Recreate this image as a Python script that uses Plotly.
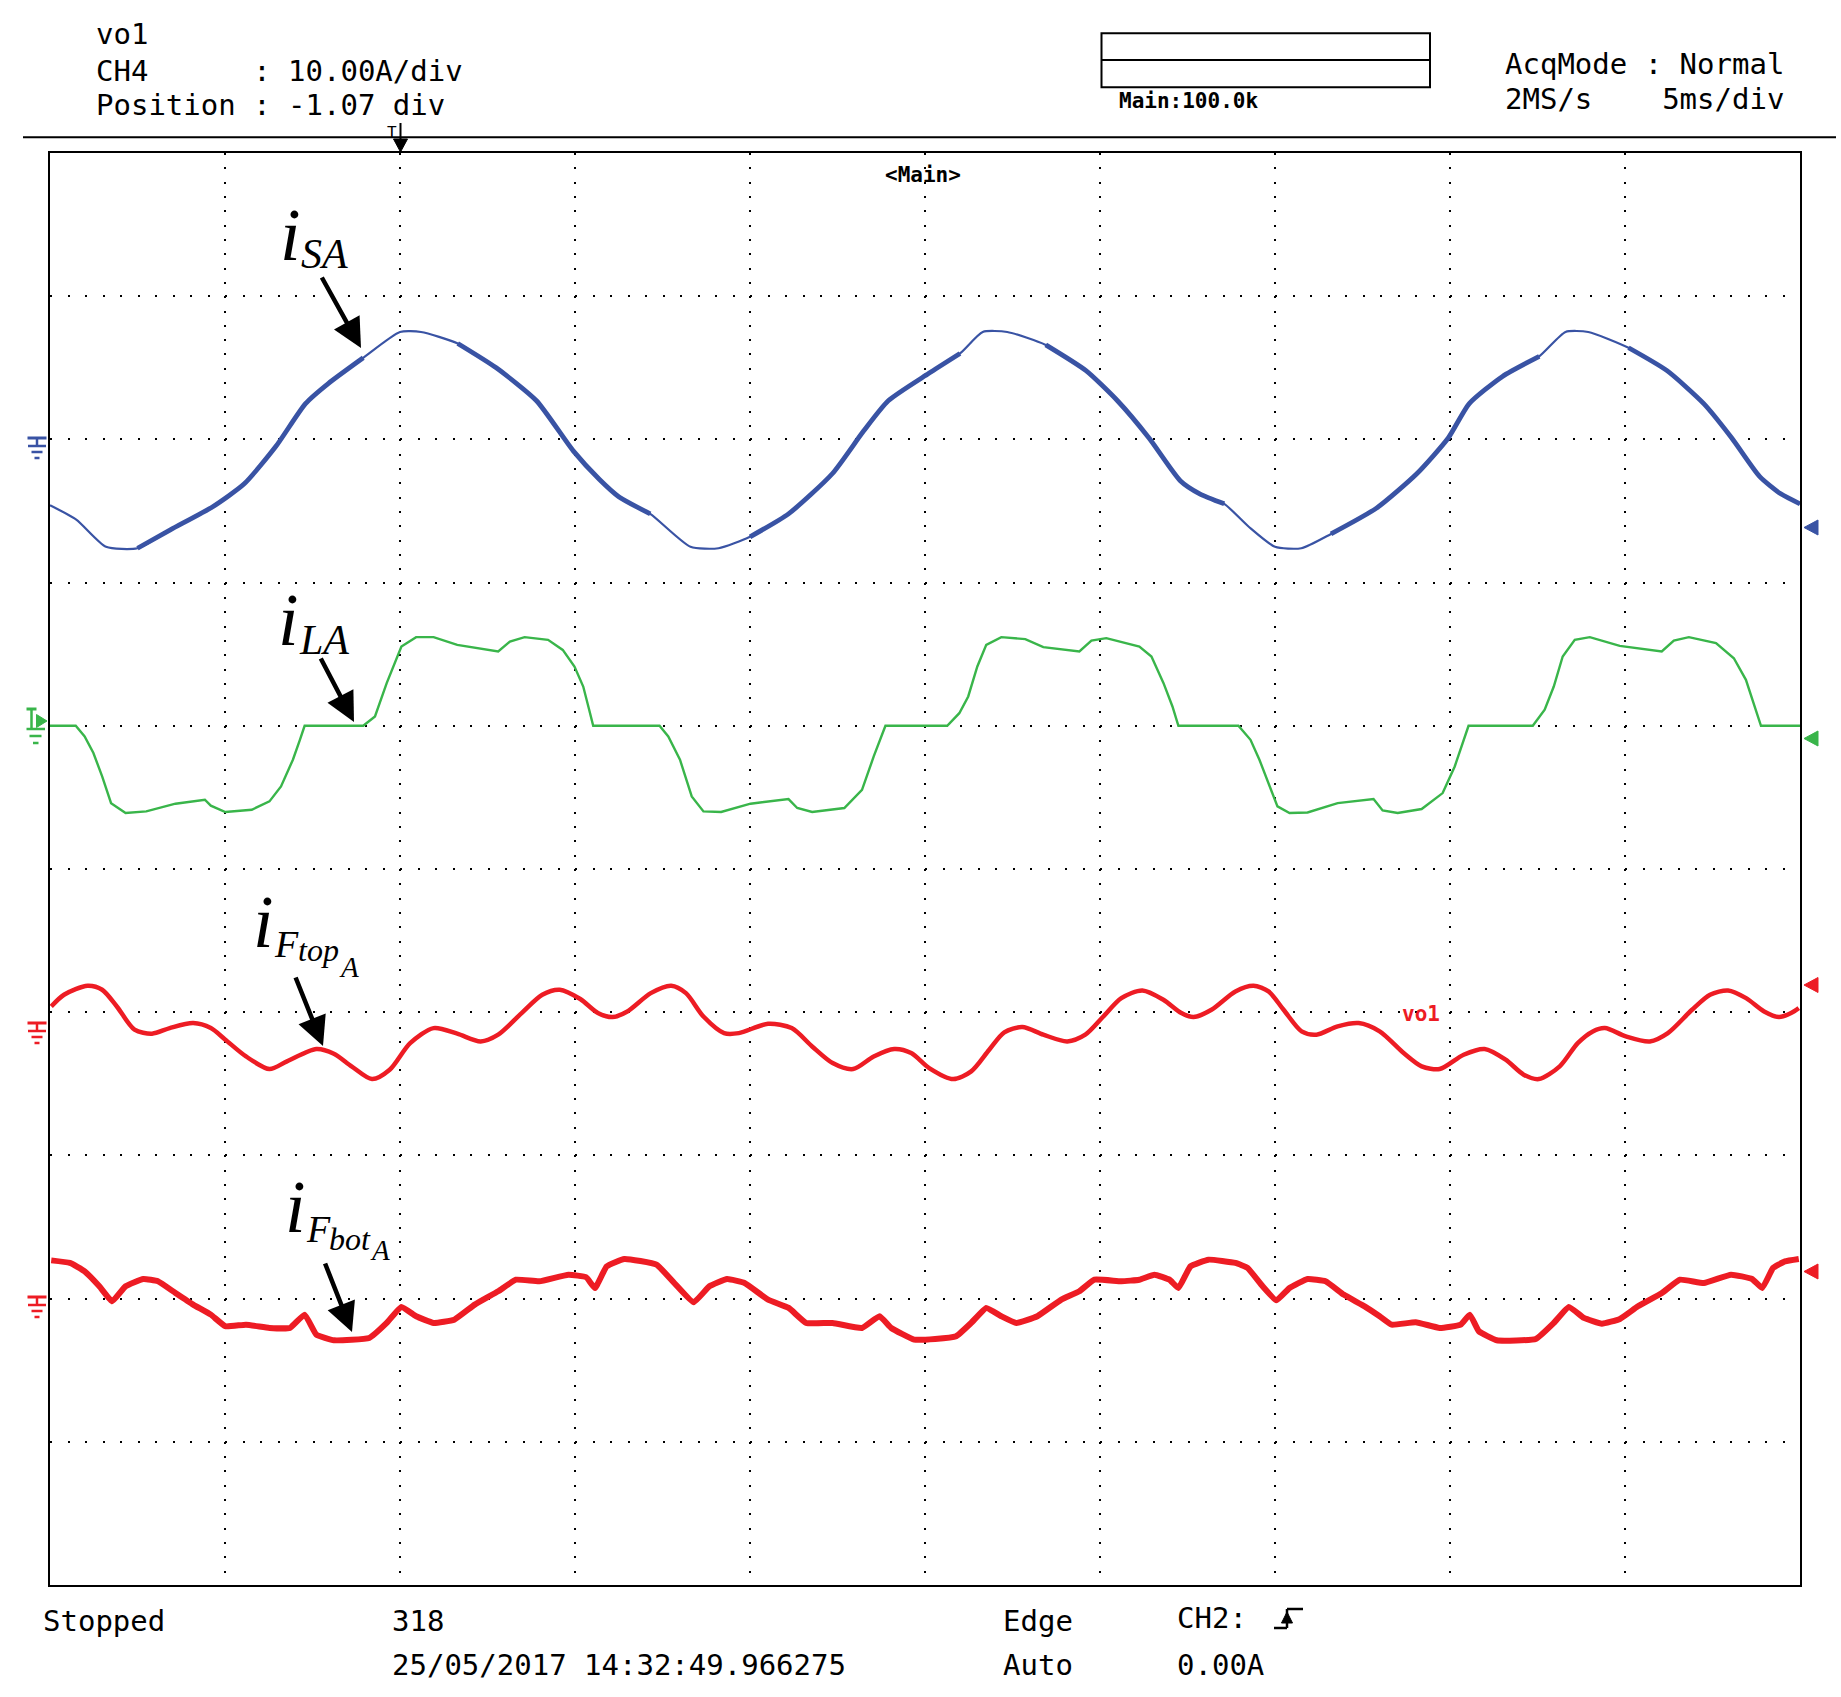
import numpy as np
import plotly.graph_objects as go

# ---------------- data read from the scope screen ----------------
# time in graticule divisions (5 ms/div), vertical position in divisions from top of screen
isa_t = [0.00, 0.15, 0.32, 0.50, 0.69, 0.93, 1.11, 1.29, 1.46, 1.59, 1.79, 2.00, 2.12, 2.33, 2.55, 2.78,
         2.99, 3.14, 3.25, 3.43, 3.66, 3.82, 4.00, 4.22, 4.47, 4.65, 4.79, 5.02, 5.20, 5.33, 5.47, 5.69,
         5.92, 6.10, 6.28, 6.46, 6.57, 6.71, 6.85, 7.00, 7.15, 7.32, 7.58, 7.81, 7.99, 8.11, 8.30, 8.51,
         8.66, 8.79, 9.02, 9.24, 9.45, 9.61, 9.77, 9.89, 10.00]
isa_y = [2.46, 2.56, 2.75, 2.76, 2.63, 2.47, 2.31, 2.05, 1.75, 1.61, 1.43, 1.25, 1.25, 1.33, 1.50, 1.73,
         2.08, 2.28, 2.40, 2.52, 2.75, 2.76, 2.68, 2.52, 2.24, 1.94, 1.73, 1.54, 1.40, 1.25, 1.25, 1.34,
         1.52, 1.73, 1.99, 2.29, 2.38, 2.45, 2.61, 2.75, 2.76, 2.66, 2.48, 2.24, 1.99, 1.75, 1.56, 1.42,
         1.25, 1.25, 1.36, 1.52, 1.75, 1.99, 2.26, 2.38, 2.45]

ila_t = [0.00, 0.147, 0.198, 0.248, 0.298, 0.349, 0.432, 0.55, 0.717, 0.885, 0.919, 1.002, 1.153, 1.254,
         1.32, 1.388, 1.428, 1.455, 1.79, 1.857, 1.924, 2.008, 2.092, 2.192, 2.327, 2.561, 2.628, 2.712,
         2.846, 2.93, 2.997, 3.047, 3.081, 3.104, 3.483, 3.533, 3.60, 3.667, 3.734, 3.835, 4.003, 4.22,
         4.27, 4.355, 4.539, 4.64, 4.707, 4.774, 5.127, 5.196, 5.247, 5.299, 5.35, 5.436, 5.573, 5.676,
         5.882, 5.951, 6.036, 6.225, 6.294, 6.363, 6.414, 6.448, 6.791, 6.86, 6.911, 6.963, 7.014, 7.083,
         7.186, 7.358, 7.563, 7.615, 7.701, 7.838, 7.958, 8.027, 8.078, 8.106, 8.473, 8.541, 8.593, 8.644,
         8.713, 8.799, 8.97, 9.21, 9.279, 9.365, 9.52, 9.622, 9.691, 9.743, 9.777, 10.0]
ila_y = [4.00, 4.00, 4.074, 4.19, 4.353, 4.54, 4.609, 4.598, 4.544, 4.516, 4.558, 4.602, 4.586, 4.528,
         4.423, 4.237, 4.098, 4.00, 4.00, 3.935, 3.702, 3.447, 3.381, 3.381, 3.435, 3.481, 3.412, 3.381,
         3.40, 3.47, 3.586, 3.726, 3.888, 4.00, 4.00, 4.074, 4.237, 4.493, 4.598, 4.602, 4.544, 4.512,
         4.574, 4.602, 4.574, 4.447, 4.214, 4.00, 4.00, 3.912, 3.795, 3.586, 3.435, 3.381, 3.395, 3.451,
         3.481, 3.405, 3.388, 3.447, 3.516, 3.702, 3.865, 4.00, 4.00, 4.098, 4.237, 4.40, 4.563, 4.609,
         4.605, 4.54, 4.512, 4.591, 4.609, 4.581, 4.47, 4.284, 4.098, 4.00, 4.00, 3.888, 3.726, 3.516,
         3.40, 3.381, 3.442, 3.481, 3.405, 3.381, 3.423, 3.528, 3.679, 3.865, 4.00, 4.00]

iftop_t = [0.007, 0.08, 0.215, 0.298, 0.382, 0.483, 0.583, 0.684, 0.818, 0.919, 1.002, 1.12, 1.254, 1.354,
           1.522, 1.622, 1.723, 1.84, 1.941, 2.058, 2.192, 2.327, 2.461, 2.561, 2.695, 2.813, 2.913, 3.03,
           3.131, 3.215, 3.299, 3.433, 3.55, 3.634, 3.734, 3.852, 3.936, 4.103, 4.238, 4.355, 4.472, 4.589,
           4.707, 4.824, 4.921, 5.024, 5.161, 5.264, 5.367, 5.453, 5.556, 5.676, 5.813, 5.916, 6.019, 6.122,
           6.242, 6.362, 6.465, 6.534, 6.637, 6.774, 6.877, 6.963, 7.049, 7.152, 7.237, 7.358, 7.478, 7.598,
           7.735, 7.838, 7.941, 8.078, 8.198, 8.318, 8.421, 8.507, 8.627, 8.73, 8.816, 8.885, 9.005, 9.142,
           9.245, 9.383, 9.486, 9.589, 9.692, 9.795, 9.88, 9.949, 9.993]
iftop_y = [5.96, 5.878, 5.815, 5.843, 5.96, 6.122, 6.15, 6.111, 6.076, 6.111, 6.192, 6.309, 6.397, 6.343,
           6.257, 6.29, 6.378, 6.467, 6.402, 6.216, 6.111, 6.15, 6.204, 6.157, 6.006, 5.878, 5.843, 5.908,
           6.006, 6.034, 5.995, 5.867, 5.815, 5.867, 6.03, 6.146, 6.146, 6.081, 6.111, 6.239, 6.355, 6.397,
           6.309, 6.257, 6.285, 6.39, 6.467, 6.413, 6.262, 6.141, 6.104, 6.157, 6.204, 6.157, 6.03, 5.902,
           5.848, 5.913, 6.006, 6.034, 5.983, 5.855, 5.815, 5.855, 5.983, 6.134, 6.157, 6.099, 6.076, 6.134,
           6.285, 6.378, 6.397, 6.297, 6.257, 6.332, 6.436, 6.467, 6.378, 6.216, 6.134, 6.111, 6.169, 6.204,
           6.146, 5.983, 5.878, 5.848, 5.902, 5.995, 6.034, 6.006, 5.971]

ifbot_t = [0.007, 0.114, 0.198, 0.282, 0.355, 0.432, 0.533, 0.617, 0.717, 0.818, 0.919, 1.002, 1.12, 1.254,
           1.371, 1.455, 1.522, 1.623, 1.824, 1.924, 2.008, 2.092, 2.192, 2.31, 2.427, 2.561, 2.662, 2.796,
           2.963, 3.064, 3.114, 3.181, 3.282, 3.466, 3.567, 3.678, 3.768, 3.869, 3.969, 4.103, 4.221, 4.321,
           4.472, 4.64, 4.74, 4.807, 4.938, 5.058, 5.178, 5.264, 5.35, 5.436, 5.522, 5.642, 5.779, 5.882,
           5.968, 6.122, 6.225, 6.311, 6.397, 6.448, 6.517, 6.62, 6.774, 6.843, 6.929, 7.008, 7.083, 7.186,
           7.289, 7.392, 7.512, 7.598, 7.667, 7.804, 7.941, 8.061, 8.113, 8.165, 8.267, 8.49, 8.593, 8.679,
           8.765, 8.868, 8.971, 9.074, 9.211, 9.314, 9.451, 9.606, 9.726, 9.784, 9.846, 9.914, 9.993]
ifbot_y = [7.733, 7.751, 7.81, 7.914, 8.019, 7.914, 7.863, 7.879, 7.961, 8.042, 8.112, 8.193, 8.182, 8.205,
           8.205, 8.112, 8.251, 8.291, 8.275, 8.17, 8.058, 8.123, 8.17, 8.147, 8.042, 7.949, 7.868, 7.879,
           7.833, 7.851, 7.926, 7.775, 7.723, 7.763, 7.891, 8.026, 7.914, 7.863, 7.891, 8.007, 8.065, 8.17,
           8.17, 8.205, 8.123, 8.205, 8.286, 8.282, 8.263, 8.17, 8.065, 8.123, 8.17, 8.123, 8.007, 7.949,
           7.868, 7.879, 7.868, 7.833, 7.868, 7.926, 7.775, 7.728, 7.751, 7.786, 7.914, 8.012, 7.926, 7.863,
           7.879, 7.972, 8.054, 8.123, 8.182, 8.165, 8.205, 8.182, 8.112, 8.228, 8.291, 8.282, 8.17, 8.058,
           8.135, 8.175, 8.142, 8.054, 7.961, 7.868, 7.891, 7.833, 7.863, 7.926, 7.786, 7.74, 7.723]

# blue trace: time windows where the trace is drawn thin (clean segments)
isa_thin_windows = [(0.0, 0.5), (1.95, 2.15), (3.43, 3.85), (5.3, 5.5), (6.71, 7.18), (8.63, 8.82)]

header_left = ["vo1", "CH4      : 10.00A/div", "Position : -1.07 div"]
header_right = ["AcqMode : Normal", "2MS/s    5ms/div"]
zoom_label = "Main:100.0k"
window_label = "<Main>"
channel_label = "vo1"
footer_row1 = ["Stopped", "318", "Edge", "CH2:"]
footer_row2 = ["25/05/2017 14:32:49.966275", "Auto", "0.00A"]

# ---------------- styling / layout ----------------
W, H = 1841, 1697
PL, PR, PT, PB = 50, 1800, 153, 1585
BLUE, GREEN, RED = "#3953A4", "#39B54A", "#ED1C24"
MONO = "DejaVu Sans Mono"
SERIF = "Liberation Serif, Times New Roman, serif"


def px(X):
    return (X - PL) / (PR - PL)


def py(Y):
    return (PB - Y) / (PB - PT)


fig = go.Figure()

# blue trace: thin base + thick overlay in noisy regions
t_arr = np.array(isa_t)
y_arr = np.array(isa_y, dtype=float)
thin = np.zeros(len(t_arr), dtype=bool)
for a, b in isa_thin_windows:
    thin |= (t_arr > a + 1e-9) & (t_arr < b - 1e-9)
y_thick = [None if th else v for th, v in zip(thin, y_arr)]

fig.add_trace(go.Scatter(x=isa_t, y=isa_y, mode="lines",
                         line=dict(color=BLUE, width=2.2, shape="spline", smoothing=0.6)))
fig.add_trace(go.Scatter(x=isa_t, y=y_thick, mode="lines", connectgaps=False,
                         line=dict(color=BLUE, width=4.8, shape="spline", smoothing=0.6)))
fig.add_trace(go.Scatter(x=ila_t, y=ila_y, mode="lines",
                         line=dict(color=GREEN, width=2.4)))
fig.add_trace(go.Scatter(x=iftop_t, y=iftop_y, mode="lines",
                         line=dict(color=RED, width=4.5, shape="spline", smoothing=0.8)))
fig.add_trace(go.Scatter(x=ifbot_t, y=ifbot_y, mode="lines",
                         line=dict(color=RED, width=6, shape="spline", smoothing=0.35)))

shapes = []


def hline(x0, x1, y, w=2, color="black"):
    shapes.append(dict(type="line", xref="paper", yref="paper", x0=px(x0), x1=px(x1),
                       y0=py(y), y1=py(y), line=dict(color=color, width=w)))


def vline(x, y0, y1, w=2, color="black"):
    shapes.append(dict(type="line", xref="paper", yref="paper", x0=px(x), x1=px(x),
                       y0=py(y0), y1=py(y1), line=dict(color=color, width=w)))


def poly(pts, color="black"):
    path = "M " + " L ".join(f"{px(a):.5f},{py(b):.5f}" for a, b in pts) + " Z"
    shapes.append(dict(type="path", xref="paper", yref="paper", path=path,
                       fillcolor=color, line=dict(color=color, width=1)))


def ground(cx, y0, color):
    hline(cx - 9.5, cx + 9.5, y0, 3, color)
    vline(cx, y0, y0 + 8, 2.5, color)
    hline(cx - 9, cx + 9, y0 + 8, 2.5, color)
    hline(cx - 5.5, cx + 5.5, y0 + 14, 2.5, color)
    hline(cx - 2.5, cx + 2.5, y0 + 20, 2.5, color)


# header separator and zoom box
hline(23, 1836, 137.3, 2)
shapes.append(dict(type="rect", xref="paper", yref="paper", x0=px(1101.5), x1=px(1430),
                   y0=py(87.3), y1=py(33.3), line=dict(color="black", width=2)))
hline(1101.5, 1430, 60, 2)
# trigger position marker
vline(400.5, 123, 146, 2)
poly([(393.5, 139), (407.5, 139), (400.5, 152)])

# left ground markers
ground(37, 438, BLUE)
ground(37, 1023, RED)
ground(37, 1297, RED)
# green marker (ground + trigger level)
hline(26.5, 36.5, 709, 3, GREEN)
vline(31.5, 709, 728, 2.5, GREEN)
poly([(36.5, 714.5), (36.5, 727.5), (47, 721)], GREEN)
hline(26.5, 45, 729, 2.5, GREEN)
hline(29.5, 41.5, 736, 2.5, GREEN)
hline(33, 38.5, 743, 2.5, GREEN)

# right-side offset markers
for cy, col in [(527.5, BLUE), (738.5, GREEN), (985, RED), (1271.5, RED)]:
    poly([(1804, cy), (1818, cy - 7.5), (1818, cy + 7.5)], col)

# trigger edge symbol in footer
hline(1274, 1287, 1628, 2.5)
vline(1287, 1609, 1628, 2.5)
hline(1287, 1303, 1609, 2.5)
poly([(1281.5, 1623), (1292.5, 1623), (1287, 1612)])

annos = []


def text(s, x, base, size, family=MONO, color="black", anchor="left", bold=False, italic=False):
    s = s.replace(" ", "\u00a0").replace("<", "&lt;").replace(">", "&gt;")
    if bold:
        s = "<b>" + s + "</b>"
    if italic:
        s = "<i>" + s + "</i>"
    annos.append(dict(text=s, xref="paper", yref="paper", x=px(x), y=py(base - 0.34 * size),
                      xanchor=anchor, yanchor="middle", showarrow=False, borderpad=0, borderwidth=0,
                      font=dict(family=family, size=size, color=color)))


def ital(s, x, base, size):
    text(s, x, base, size, family=SERIF, italic=True)


def arrow(tail, tip):
    annos.append(dict(text="", xref="paper", yref="paper", x=px(tip[0]), y=py(tip[1]),
                      ax=tail[0] - tip[0], ay=tail[1] - tip[1], showarrow=True,
                      arrowhead=2, arrowsize=1.3, arrowwidth=4.5, arrowcolor="black"))


# header text
text(header_left[0], 96, 44, 29)
text(header_left[1], 96, 81, 29)
text(header_left[2], 96, 115, 29)
text(header_right[0], 1505, 74, 29)
text(header_right[1], 1505, 109, 29)
text(zoom_label, 1119, 108, 21, bold=True)
text("T", 387, 138, 16)
text(window_label, 923, 182.5, 21, anchor="center", bold=True)
text(channel_label, 1402, 1021, 21, color=RED, bold=True)

# footer text
text(footer_row1[0], 43, 1631, 29)
text(footer_row1[1], 391.5, 1631, 29)
text(footer_row1[2], 1002.5, 1631, 29)
text(footer_row1[3], 1176.5, 1628, 29)
text(footer_row2[0], 391.5, 1675, 29)
text(footer_row2[1], 1002.5, 1675, 29)
text(footer_row2[2], 1176.5, 1675, 29)

# trace labels (main letter + subscripts placed side by side)
ital("i", 280, 260, 74)
ital("SA", 301, 268, 42)
ital("i", 277.5, 645, 74)
ital("LA", 298.5, 654, 42)
ital("i", 253, 947, 74)
ital("F", 274, 957, 38)
ital("top", 297.5, 961, 32)
ital("A", 338.5, 977, 29)
ital("i", 284.5, 1232, 74)
ital("F", 305.5, 1242, 38)
ital("bot", 329, 1250, 32)
ital("A", 370, 1260, 29)

arrow((321, 276), (361, 348))
arrow((320, 657), (354, 722))
arrow((295, 976), (323, 1046))
arrow((324.5, 1262), (352, 1332))

axis_common = dict(showticklabels=False, ticks="", zeroline=False, showline=True, mirror=True,
                   linecolor="black", linewidth=2, showgrid=True, gridcolor="black", gridwidth=2)
fig.update_layout(
    width=W, height=H, autosize=False,
    margin=dict(l=PL, r=W - PR, t=PT, b=H - PB, pad=0),
    paper_bgcolor="white", plot_bgcolor="white", showlegend=False,
    xaxis=dict(range=[0, 10], dtick=1, tick0=0, griddash="2px,12.32px", **axis_common),
    yaxis=dict(range=[10, 0], dtick=1, tick0=0, griddash="2px,15.5px", **axis_common),
    shapes=shapes, annotations=annos,
)

fig.write_html("out.html", config={"displayModeBar": False},
               post_script="document.body.style.margin='0';document.body.style.overflow='hidden';")
